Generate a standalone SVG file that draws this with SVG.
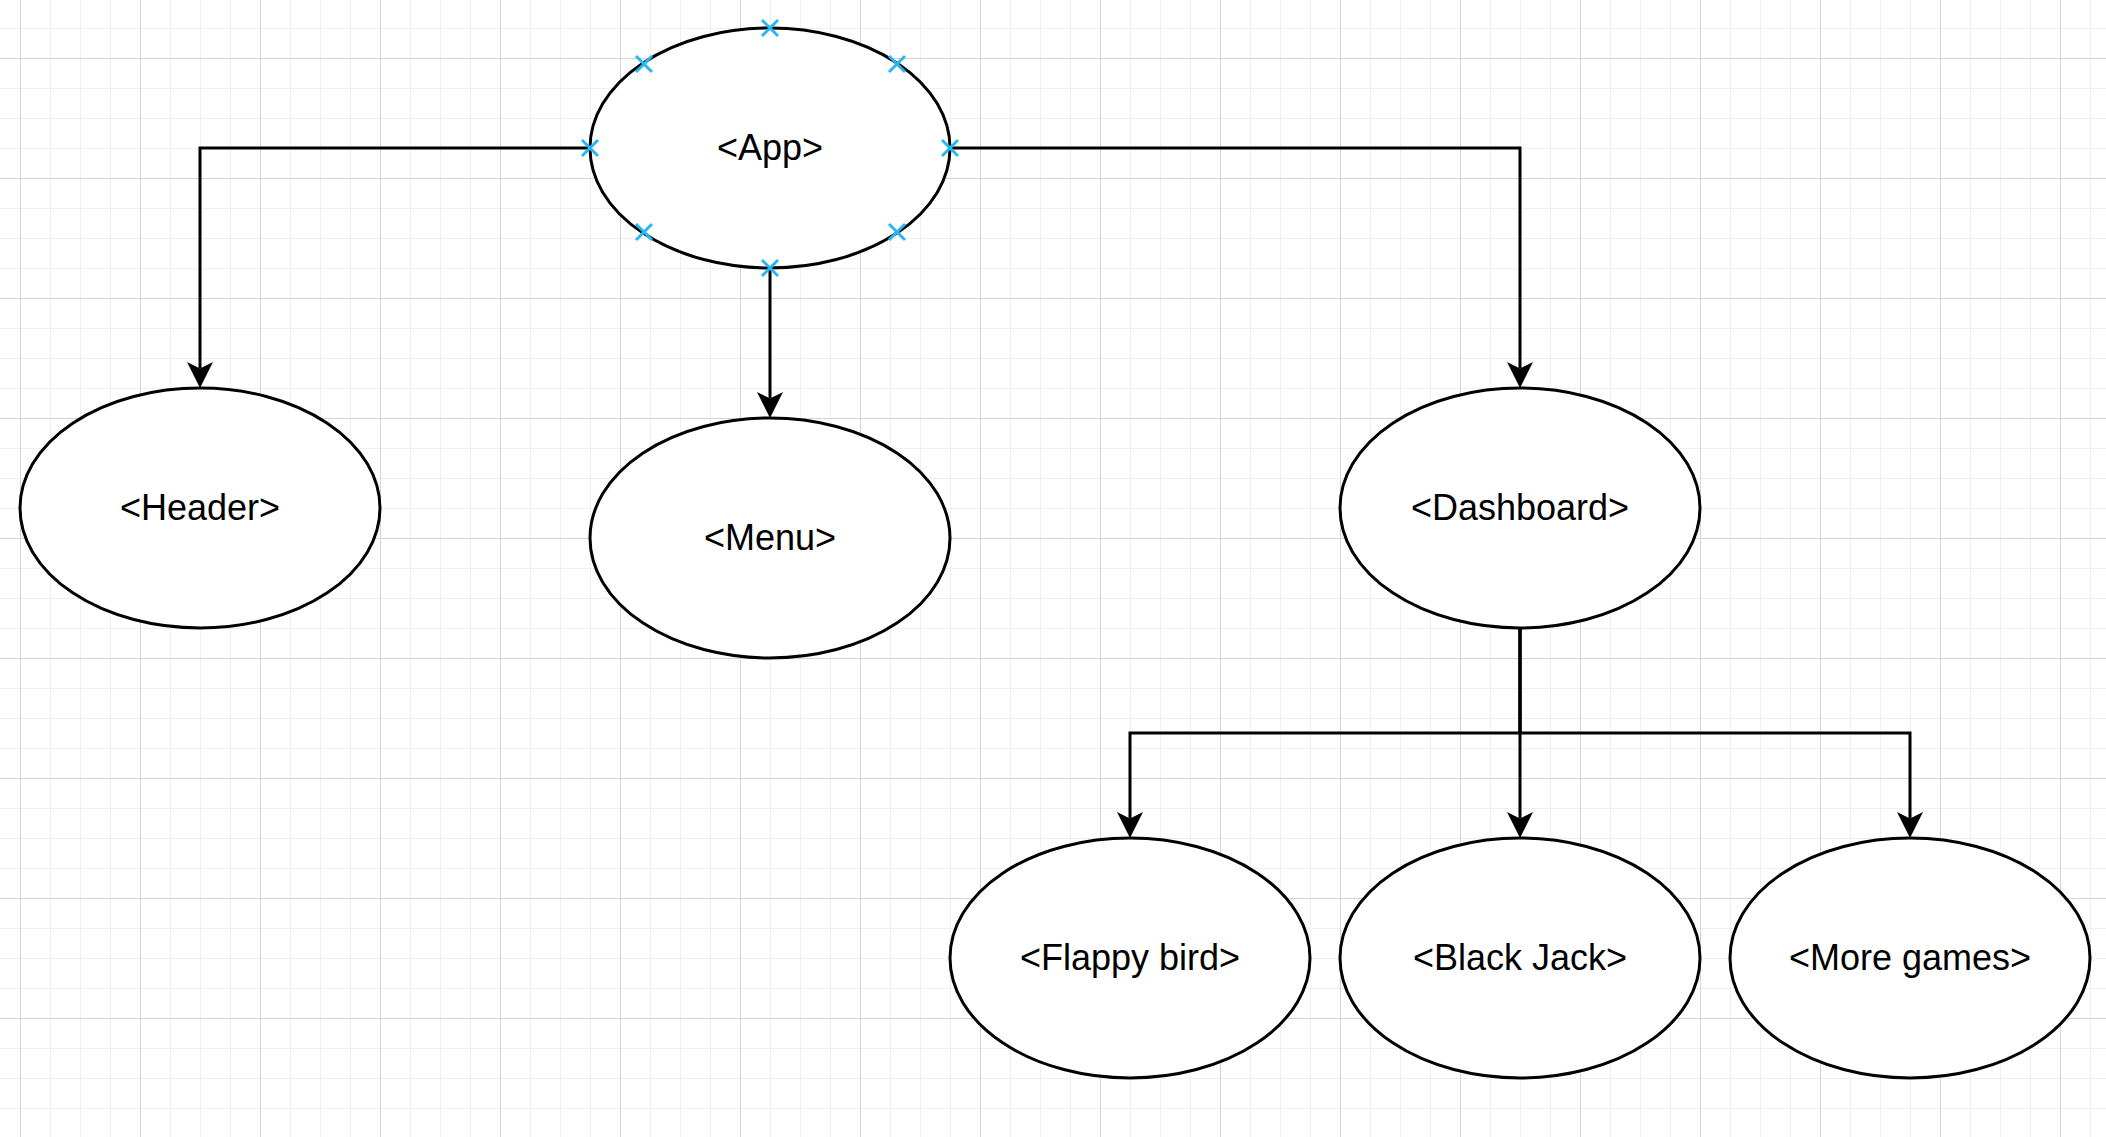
<svg xmlns="http://www.w3.org/2000/svg" width="2106" height="1137" viewBox="0 0 2106 1137">
  <defs>
    <pattern id="gridMinor" x="20" y="-2" width="30" height="30" patternUnits="userSpaceOnUse">
      <rect x="0" y="0" width="1" height="30" fill="#f0f0f0"/>
      <rect x="0" y="0" width="30" height="1" fill="#f0f0f0"/>
    </pattern>
    <pattern id="gridMajor" x="20" y="58" width="120" height="120" patternUnits="userSpaceOnUse">
      <rect x="0" y="0" width="1" height="120" fill="#d4d4d4"/>
      <rect x="0" y="0" width="120" height="1" fill="#d4d4d4"/>
    </pattern>
    <!-- classic notched arrowhead; line ends at the notch, tip sits 19.5px further on -->
    <marker id="arrow" markerUnits="userSpaceOnUse" viewBox="-8 -14 30 28" refX="0" refY="0" markerWidth="30" markerHeight="28" orient="auto" overflow="visible">
      <path d="M19.5,0 L-6.5,-13 L0,0 L-6.5,13 Z" fill="#000"/>
    </marker>
  </defs>
  <style>
    .node ellipse { fill: #ffffff; stroke: #000000; stroke-width: 3; }
    .node text { font-family: "Liberation Sans", Arial, sans-serif; font-size: 36px; fill: #000000; text-anchor: middle; }
    .edge { fill: none; stroke: #000000; stroke-width: 3; marker-end: url(#arrow); }
    .handle { stroke: #29b6f2; stroke-width: 3; fill: none; }
  </style>

  <!-- canvas background and grid -->
  <rect width="2106" height="1137" fill="#ffffff"/>
  <rect width="2106" height="1137" fill="url(#gridMinor)"/>
  <rect width="2106" height="1137" fill="url(#gridMajor)"/>

  <!-- connectors -->
  <g id="connectors">
    <path class="edge" d="M590,148 H200 V368.5"/>
    <path class="edge" d="M770,268 V398.5"/>
    <path class="edge" d="M950,148 H1520 V368.5"/>
    <path class="edge" d="M1520,628 V733 H1130 V818.5"/>
    <path class="edge" d="M1520,628 V818.5"/>
    <path class="edge" d="M1520,628 V733 H1910 V818.5"/>
  </g>

  <g id="app" class="node">
    <ellipse cx="770" cy="148" rx="180" ry="120"/>
    <text x="770" y="160">&lt;App&gt;</text>
    <!-- connection handles -->
    <g class="handle">
      <path d="M762,20 l16,16 m0,-16 l-16,16"/>
      <path d="M762,260 l16,16 m0,-16 l-16,16"/>
      <path d="M582,140 l16,16 m0,-16 l-16,16"/>
      <path d="M942,140 l16,16 m0,-16 l-16,16"/>
      <path d="M636,56 l16,16 m0,-16 l-16,16"/>
      <path d="M889,56 l16,16 m0,-16 l-16,16"/>
      <path d="M636,224 l16,16 m0,-16 l-16,16"/>
      <path d="M889,224 l16,16 m0,-16 l-16,16"/>
    </g>
  </g>

  <g id="header" class="node">
    <ellipse cx="200" cy="508" rx="180" ry="120"/>
    <text x="200" y="520">&lt;Header&gt;</text>
  </g>

  <g id="menu" class="node">
    <ellipse cx="770" cy="538" rx="180" ry="120"/>
    <text x="770" y="550">&lt;Menu&gt;</text>
  </g>

  <g id="dashboard" class="node">
    <ellipse cx="1520" cy="508" rx="180" ry="120"/>
    <text x="1520" y="520">&lt;Dashboard&gt;</text>
  </g>

  <g id="flappy-bird" class="node">
    <ellipse cx="1130" cy="958" rx="180" ry="120"/>
    <text x="1130" y="970">&lt;Flappy bird&gt;</text>
  </g>

  <g id="black-jack" class="node">
    <ellipse cx="1520" cy="958" rx="180" ry="120"/>
    <text x="1520" y="970">&lt;Black Jack&gt;</text>
  </g>

  <g id="more-games" class="node">
    <ellipse cx="1910" cy="958" rx="180" ry="120"/>
    <text x="1910" y="970">&lt;More games&gt;</text>
  </g>
</svg>
